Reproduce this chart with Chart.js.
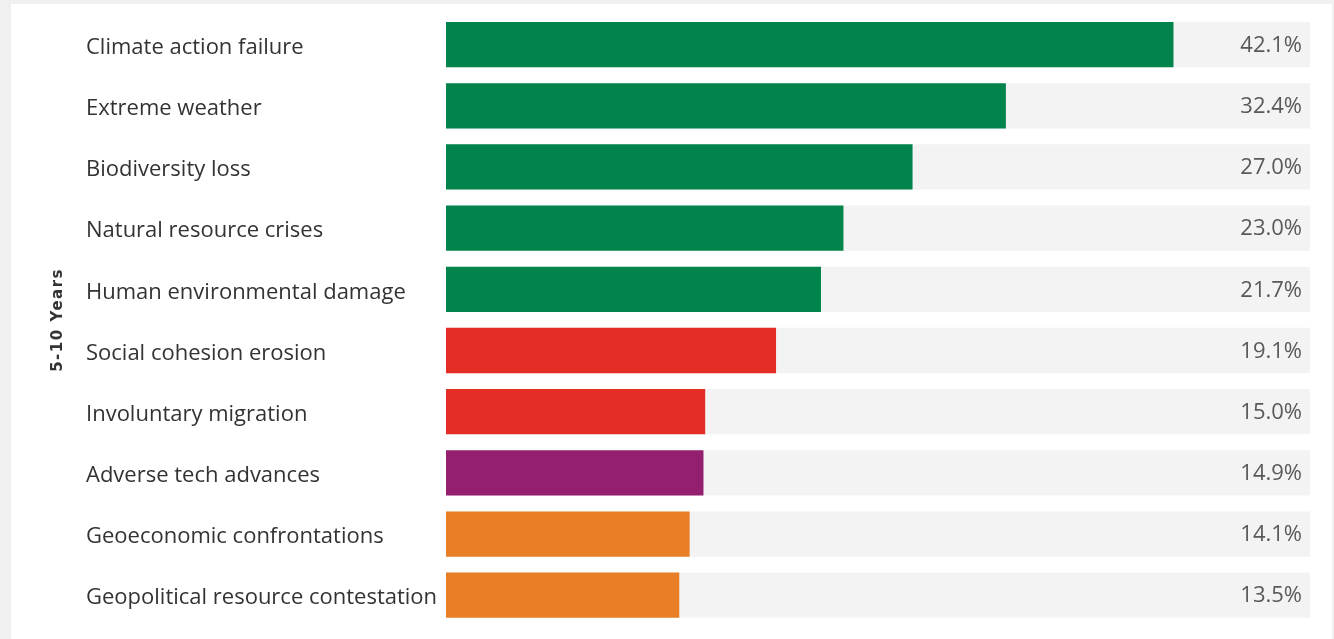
<!DOCTYPE html>
<html>
<head>
<meta charset="utf-8">
<script src="https://cdn.jsdelivr.net/npm/chart.js@4"></script>
<style>
  html, body { margin:0; padding:0; width:1334px; height:639px; background:#f0f0f0; overflow:hidden; }
  #panel { position:absolute; left:11px; top:4px; width:1321px; height:635px; background:#ffffff; }
  #c { position:absolute; left:0; top:0; }
</style>
</head>
<body>
<div id="panel"></div>
<canvas id="c" width="1334" height="639"></canvas>
<script>
const categories = [
  "Climate action failure",
  "Extreme weather",
  "Biodiversity loss",
  "Natural resource crises",
  "Human environmental damage",
  "Social cohesion erosion",
  "Involuntary migration",
  "Adverse tech advances",
  "Geoeconomic confrontations",
  "Geopolitical resource contestation"
];
const values = [42.1, 32.4, 27.0, 23.0, 21.7, 19.1, 15.0, 14.9, 14.1, 13.5];
const riskGroup = ["env","env","env","env","env","soc","soc","tech","eco","eco"];
const groupColors = { env:"#00844b", soc:"#e32d25", tech:"#951f6f", eco:"#e87f27" };
const axisMax = 50;
const axisTitle = "5-10 Years";

const LABEL_FONT = "'Open Sans', 'Noto Sans', sans-serif";

const valueLabels = {
  id: 'valueLabels',
  afterDatasetsDraw(chart) {
    const ctx = chart.ctx;
    const meta = chart.getDatasetMeta(1);
    ctx.save();
    ctx.font = "22px " + LABEL_FONT;
    ctx.fillStyle = "#595959";
    ctx.textAlign = "right";
    ctx.textBaseline = "middle";
    meta.data.forEach((bar, i) => {
      ctx.fillText(values[i].toFixed(1) + "%", chart.chartArea.right - 8, bar.y + 1);
    });
    // rotated axis title
    ctx.font = "bold 15px 'DejaVu Sans', sans-serif";
    ctx.letterSpacing = "1.5px";
    ctx.fillStyle = "#333333";
    ctx.textAlign = "center";
    ctx.translate(58, (chart.chartArea.top + chart.chartArea.bottom) / 2);
    ctx.rotate(-Math.PI / 2);
    ctx.fillText(axisTitle, 0, 0);
    ctx.restore();
  }
};

new Chart(document.getElementById('c'), {
  type: 'bar',
  data: {
    labels: categories,
    datasets: [
      {
        data: categories.map(() => axisMax),
        backgroundColor: "#f3f3f3",
        borderWidth: 0,
        grouped: false,
        order: 2,
        categoryPercentage: 1,
        barPercentage: 0.74
      },
      {
        data: values,
        backgroundColor: riskGroup.map(g => groupColors[g]),
        borderWidth: 0,
        grouped: false,
        order: 1,
        categoryPercentage: 1,
        barPercentage: 0.74
      }
    ]
  },
  options: {
    indexAxis: 'y',
    responsive: false,
    animation: false,
    layout: { padding: { left: 86, right: 24, top: 14, bottom: 11 } },
    plugins: { legend: { display: false }, tooltip: { enabled: false } },
    scales: {
      x: { display: false, min: 0, max: axisMax },
      y: {
        grid: { display: false, drawTicks: false },
        border: { display: false },
        ticks: {
          crossAlign: 'far',
          padding: 0,
          labelOffset: 3,
          color: "#333333",
          font: { family: LABEL_FONT, size: 22, weight: 500 }
        },
        afterFit(scale) { scale.width = 360; }
      }
    }
  },
  plugins: [valueLabels]
});
</script>
</body>
</html>
